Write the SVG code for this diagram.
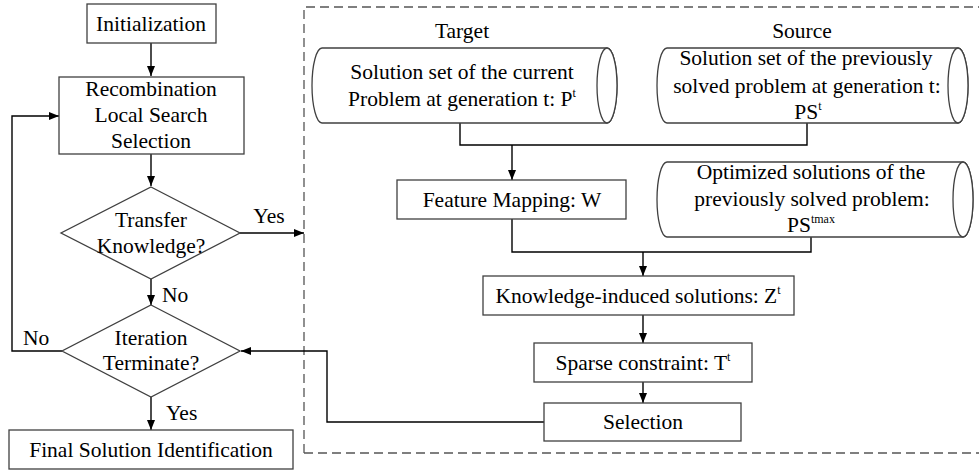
<svg xmlns="http://www.w3.org/2000/svg" width="979" height="470" viewBox="0 0 979 470">
  <style>
    .box { fill: #ffffff; stroke: #404040; stroke-width: 1.3; }
    .line { fill: none; stroke: #000000; stroke-width: 1.4; }
    .dash { fill: none; stroke: #555555; stroke-width: 1.3; stroke-dasharray: 9 5; }
    text { font-family: 'Liberation Serif', 'Times New Roman', 'DejaVu Serif', serif; font-size: 21.5px; fill: #000000; }
    .c { text-anchor: middle; }
    .sup { font-size: 12px; }
  </style>
  <defs>
    <marker id="arrow" markerWidth="10" markerHeight="8" refX="10" refY="4" orient="auto" markerUnits="userSpaceOnUse">
      <path d="M0,0 L10,4 L0,8 Z" fill="#000000"/>
    </marker>
  </defs>

  <rect fill="#ffffff" x="0" y="0" width="979" height="470"/>

  <!-- knowledge transfer region -->
  <path class="dash" d="M304,453 V7 H990 M304,453 H990"/>

  <g id="connectors">
    <path class="line" d="M151,43 V76" marker-end="url(#arrow)"/>
    <path class="line" d="M151,154 V186" marker-end="url(#arrow)"/>
    <path class="line" d="M240,233 H304" marker-end="url(#arrow)"/>
    <path class="line" d="M151,279 V305" marker-end="url(#arrow)"/>
    <path class="line" d="M62,351 H12 V116 H59" marker-end="url(#arrow)"/>
    <path class="line" d="M151,397 V430" marker-end="url(#arrow)"/>
    <path class="line" d="M460,123 V145 H807 V123"/>
    <path class="line" d="M512,145 V180" marker-end="url(#arrow)"/>
    <path class="line" d="M512,219 V252 H811 V237"/>
    <path class="line" d="M643,252 V276" marker-end="url(#arrow)"/>
    <path class="line" d="M643,315 V343" marker-end="url(#arrow)"/>
    <path class="line" d="M643,382 V403" marker-end="url(#arrow)"/>
    <path class="line" d="M544,422 H327 V351 H241" marker-end="url(#arrow)"/>
    <text x="269" y="223" class="c" font-family="Liberation Serif">Yes</text>
    <text x="162" y="302" font-family="Liberation Serif">No</text>
    <text x="23" y="345" font-family="Liberation Serif">No</text>
    <text x="166" y="420" font-family="Liberation Serif">Yes</text>
  </g>

  <g id="init">
    <rect class="box" x="87" y="4" width="129" height="39"/>
    <text x="151" y="31" class="c">Initialization</text>
  </g>

  <g id="evolve">
    <rect class="box" x="59" y="77" width="185" height="77"/>
    <text x="151" y="96" class="c">Recombination</text>
    <text x="151" y="122" class="c">Local Search</text>
    <text x="151" y="148" class="c">Selection</text>
  </g>

  <g id="transfer-decision">
    <path class="box" d="M151,187 L240,233 L151,279 L61,233 Z"/>
    <text x="151" y="227" class="c">Transfer</text>
    <text x="151" y="253" class="c">Knowledge?</text>
  </g>

  <g id="terminate-decision">
    <path class="box" d="M151,305 L240,351 L151,397 L62,351 Z"/>
    <text x="151" y="345" class="c">Iteration</text>
    <text x="151" y="370" class="c">Terminate?</text>
  </g>

  <g id="final">
    <rect class="box" x="9" y="430" width="284" height="39"/>
    <text x="151" y="457" class="c">Final Solution Identification</text>
  </g>

  <g id="target">
    <text x="462" y="38" class="c">Target</text>
    <path class="box" d="M322,48 H607 A10,37.5 0 0 1 607,123 H322 A10,37.5 0 0 1 322,48 Z"/>
    <ellipse class="box" cx="607" cy="85.5" rx="10" ry="37.5"/>
    <text x="462" y="79" class="c">Solution set of the current</text>
    <text x="462" y="106" class="c">Problem at generation t: P<tspan class="sup" dy="-9">t</tspan></text>
  </g>

  <g id="source">
    <text x="802" y="38" class="c">Source</text>
    <path class="box" d="M667,48 H958 A10,37.5 0 0 1 958,123 H667 A10,37.5 0 0 1 667,48 Z"/>
    <ellipse class="box" cx="958" cy="85.5" rx="10" ry="37.5"/>
    <text x="806" y="65" class="c">Solution set of the previously</text>
    <text x="807" y="93" class="c">solved problem at generation t:</text>
    <text x="808" y="119" class="c">PS<tspan class="sup" dy="-9">t</tspan></text>
  </g>

  <g id="feature-mapping">
    <rect class="box" x="397" y="180" width="229" height="39"/>
    <text x="512" y="207" class="c">Feature Mapping: W</text>
  </g>

  <g id="optimized">
    <path class="box" d="M667,162 H963 A10,37.5 0 0 1 963,237 H667 A10,37.5 0 0 1 667,162 Z"/>
    <ellipse class="box" cx="963" cy="199.5" rx="10" ry="37.5"/>
    <text x="811" y="179" class="c">Optimized solutions of the</text>
    <text x="812" y="206" class="c">previously solved problem:</text>
    <text x="811" y="232" class="c">PS<tspan class="sup" dy="-9">tmax</tspan></text>
  </g>

  <g id="knowledge">
    <rect class="box" x="483" y="276" width="311" height="39"/>
    <text x="638" y="303" class="c">Knowledge-induced solutions: Z<tspan class="sup" dy="-9">t</tspan></text>
  </g>

  <g id="sparse">
    <rect class="box" x="534" y="343" width="218" height="39"/>
    <text x="643" y="370" class="c">Sparse constraint: T<tspan class="sup" dy="-9">t</tspan></text>
  </g>

  <g id="selection">
    <rect class="box" x="544" y="403" width="197" height="38"/>
    <text x="643" y="429" class="c">Selection</text>
  </g>
</svg>
